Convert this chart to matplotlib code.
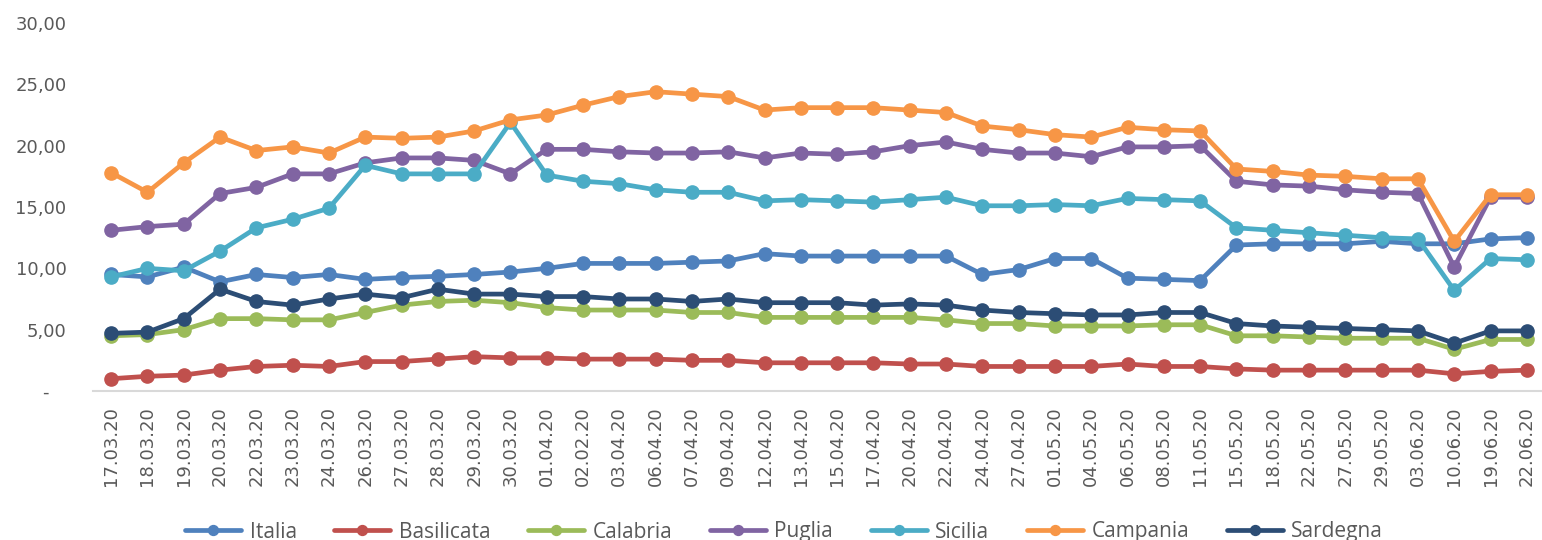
import matplotlib.pyplot as plt
from matplotlib.ticker import FuncFormatter

dates = ['17.03.20', '18.03.20', '19.03.20', '20.03.20', '22.03.20', '23.03.20', '24.03.20',
         '26.03.20', '27.03.20', '28.03.20', '29.03.20', '30.03.20', '01.04.20', '02.02.20',
         '03.04.20', '06.04.20', '07.04.20', '09.04.20', '12.04.20', '13.04.20', '15.04.20',
         '17.04.20', '20.04.20', '22.04.20', '24.04.20', '27.04.20', '01.05.20', '04.05.20',
         '06.05.20', '08.05.20', '11.05.20', '15.05.20', '18.05.20', '22.05.20', '27.05.20',
         '29.05.20', '03.06.20', '10.06.20', '19.06.20', '22.06.20']

italia = [9.5, 9.3, 10.1, 8.9, 9.5, 9.25, 9.5, 9.1, 9.25, 9.35, 9.5, 9.7, 10.0, 10.4, 10.4,
          10.4, 10.5, 10.6, 11.2, 11.0, 11.0, 11.0, 11.0, 11.0, 9.5, 9.9, 10.8, 10.8, 9.2, 9.1,
          9.0, 11.9, 12.0, 12.0, 12.0, 12.2, 12.0, 12.0, 12.4, 12.5]
basilicata = [1.0, 1.2, 1.3, 1.7, 2.0, 2.1, 2.0, 2.4, 2.4, 2.6, 2.8, 2.7, 2.7, 2.6, 2.6, 2.6,
              2.5, 2.5, 2.3, 2.3, 2.3, 2.3, 2.2, 2.2, 2.0, 2.0, 2.0, 2.0, 2.2, 2.0, 2.0, 1.8,
              1.7, 1.7, 1.7, 1.7, 1.7, 1.4, 1.6, 1.7]
calabria = [4.5, 4.6, 5.0, 5.9, 5.9, 5.8, 5.8, 6.4, 7.0, 7.3, 7.4, 7.2, 6.8, 6.6, 6.6, 6.6,
            6.4, 6.4, 6.0, 6.0, 6.0, 6.0, 6.0, 5.8, 5.5, 5.5, 5.3, 5.3, 5.3, 5.4, 5.4, 4.5,
            4.5, 4.4, 4.3, 4.3, 4.3, 3.4, 4.2, 4.2]
puglia = [13.1, 13.4, 13.6, 16.1, 16.6, 17.7, 17.7, 18.6, 19.0, 19.0, 18.8, 17.7, 19.7, 19.7,
          19.5, 19.4, 19.4, 19.5, 19.0, 19.4, 19.3, 19.5, 20.0, 20.3, 19.7, 19.4, 19.4, 19.1,
          19.9, 19.9, 20.0, 17.1, 16.8, 16.7, 16.4, 16.2, 16.1, 10.1, 15.8, 15.8]
sicilia = [9.3, 10.0, 9.8, 11.4, 13.3, 14.0, 14.9, 18.4, 17.7, 17.7, 17.7, 21.9, 17.6, 17.1,
           16.9, 16.4, 16.2, 16.2, 15.5, 15.6, 15.5, 15.4, 15.6, 15.8, 15.1, 15.1, 15.2, 15.1,
           15.7, 15.6, 15.5, 13.3, 13.1, 12.9, 12.7, 12.5, 12.4, 8.2, 10.8, 10.7]
campania = [17.8, 16.2, 18.6, 20.7, 19.6, 19.9, 19.4, 20.7, 20.6, 20.7, 21.2, 22.1, 22.5, 23.3,
            24.0, 24.4, 24.2, 24.0, 22.9, 23.1, 23.1, 23.1, 22.9, 22.7, 21.6, 21.3, 20.9, 20.7,
            21.5, 21.3, 21.2, 18.1, 17.9, 17.6, 17.5, 17.3, 17.3, 12.2, 16.0, 16.0]
sardegna = [4.7, 4.8, 5.9, 8.3, 7.3, 7.0, 7.5, 7.9, 7.6, 8.3, 7.9, 7.9, 7.7, 7.7, 7.5, 7.5,
            7.3, 7.5, 7.2, 7.2, 7.2, 7.0, 7.1, 7.0, 6.6, 6.4, 6.3, 6.2, 6.2, 6.4, 6.4, 5.5,
            5.3, 5.2, 5.1, 5.0, 4.9, 3.9, 4.9, 4.9]

series = [("Italia", italia, "#4F81BD"),
          ("Basilicata", basilicata, "#C0504D"),
          ("Calabria", calabria, "#9BBB59"),
          ("Puglia", puglia, "#8064A2"),
          ("Sicilia", sicilia, "#4BACC6"),
          ("Campania", campania, "#F79646"),
          ("Sardegna", sardegna, "#2C4D75")]

plt.rcParams['font.family'] = ['DejaVu Sans']
text_col = '#595959'

fig = plt.figure(figsize=(15.42, 5.40), dpi=100)
ax = fig.add_axes([93 / 1542, 1 - 391 / 540, (1545 - 93) / 1542, (391 - 23) / 540])

x = list(range(len(dates)))
for name, vals, col in series:
    ax.plot(x, vals, color=col, lw=3.4, marker='o', ms=9.5, label=name,
            solid_joinstyle='round', solid_capstyle='round')

ax.set_xlim(-0.5, len(dates) - 0.5)
ax.set_ylim(0, 30)
ax.set_yticks([0, 5, 10, 15, 20, 25, 30])


def fmt(v, pos):
    if v == 0:
        return '-   '
    return f"{v:.2f}".replace('.', ',')


ax.yaxis.set_major_formatter(FuncFormatter(fmt))
ax.set_xticks(x)
ax.set_xticklabels(dates, rotation=90)

for s in ['top', 'right', 'left']:
    ax.spines[s].set_visible(False)
ax.spines['bottom'].set_color('#d9d9d9')
ax.spines['bottom'].set_linewidth(1.5)
ax.tick_params(axis='y', length=0, pad=19, labelsize=13, labelcolor=text_col)
ax.tick_params(axis='x', length=0, pad=11, labelsize=13, labelcolor=text_col)

# legend sits at the very bottom, slightly clipped like the original
leg = fig.legend(loc='center', bbox_to_anchor=(784 / 1542, 1 - 532 / 540), ncol=7,
                 frameon=False, handlelength=2.7, handletextpad=0.4,
                 columnspacing=1.8, markerscale=0.75, borderaxespad=0,
                 prop={'family': 'Open Sans', 'size': 15})
for t in leg.get_texts():
    t.set_color(text_col)

fig.savefig('out.png', dpi=100)
